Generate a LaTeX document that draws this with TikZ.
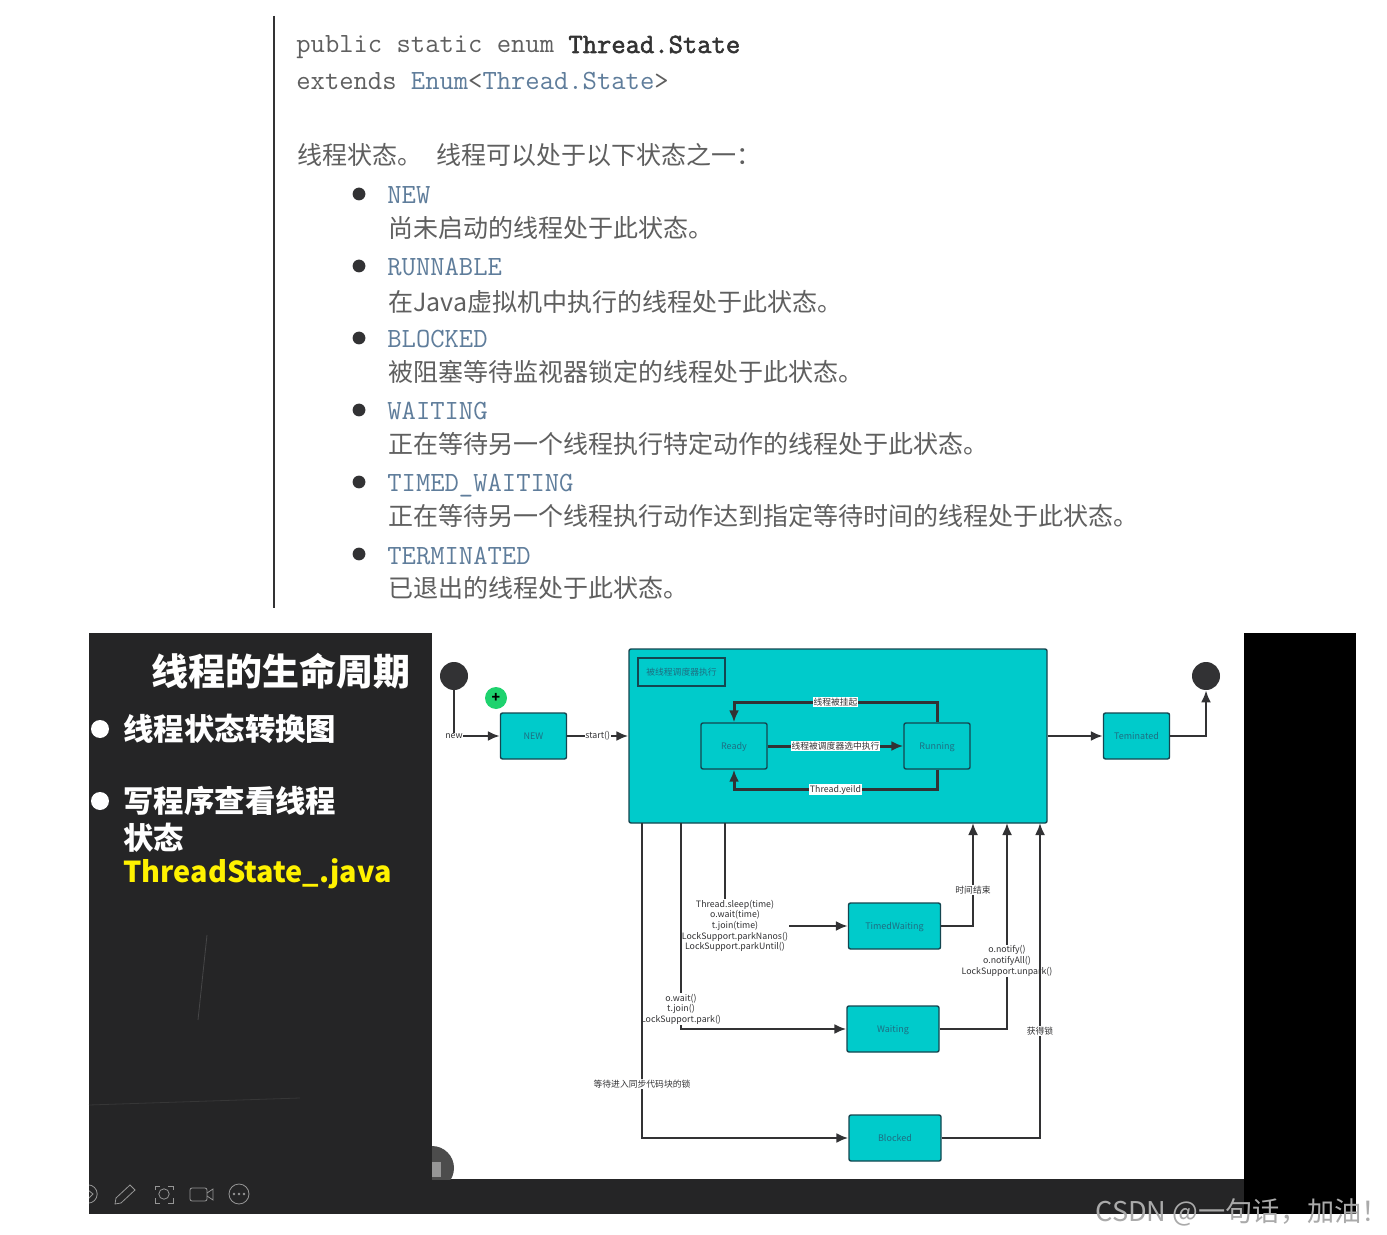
\documentclass[tikz,border=0pt]{standalone}
\usepackage{fontspec}
\usepackage{xcolor}
\usepackage{tikz}
\usetikzlibrary{arrows.meta}
\setmainfont{Noto Sans CJK SC}
\setmonofont{Latin Modern Mono}[BoldFont={Latin Modern Mono}, BoldFeatures={FakeBold=2}]
\definecolor{state-teal}{RGB}{0,203,203}
\definecolor{state-line}{RGB}{20,70,80}
\definecolor{state-text}{RGB}{30,110,130}
\definecolor{flow-dark}{RGB}{50,50,52}
\definecolor{doc-grey}{RGB}{95,95,95}
\definecolor{doc-blue}{RGB}{95,125,155}
\definecolor{board-dark}{RGB}{37,37,38}
\definecolor{icon-grey}{RGB}{150,150,150}
\definecolor{mark-grey}{RGB}{170,170,170}
\definecolor{plus-green}{RGB}{30,210,110}

\begin{document}
\begin{tikzpicture}[x=0.5pt, y=-0.5pt,
            box/.style={draw=state-line, line width=0.7pt, rounded corners=1pt, fill=state-teal,
                        text=state-text, font=\fontsize{4.5}{6}\selectfont, inner sep=0pt,
                        text height=4.4pt, text depth=1pt,
                        minimum width=33pt, minimum height=23pt},
            widebox/.style={box, minimum width=46pt},
            flow/.style={draw=flow-dark, line width=1.1pt, -{Latex[length=6pt,width=5pt]}},
            loopflow/.style={flow, line width=1.5pt},
            plain/.style={draw=flow-dark, line width=1.1pt},
            lbl/.style={fill=white, text=flow-dark, inner sep=0.4pt, align=center,
                        font=\fontsize{4.4}{5.35}\selectfont},
            dot/.style={circle, fill=flow-dark, inner sep=0pt, minimum size=14pt},
            doc/.style={anchor=west, inner sep=0pt, text=doc-grey},
            mono/.style={doc, text height=9pt, text depth=0pt, font=\ttfamily\fontsize{13.9}{13.9}\selectfont},
            cjkline/.style={doc, font=\fontsize{12.5}{12.5}\selectfont},
            slide/.style={anchor=west, inner sep=0pt, white, font=\bfseries\fontsize{15.2}{15.2}\selectfont},
            icon/.style={draw=icon-grey, line width=0.4pt}]
  \useasboundingbox (0,0) rectangle (1387,1235);

  % page background parts
  \fill[white] (0,0) rectangle (1387,1235);
  \draw[line width=0.9pt, flow-dark] (274,16) -- (274,608);
  \fill[board-dark] (89,633) rectangle (432,1214);
  \fill[board-dark] (432,1179) rectangle (1244,1214);
  \fill[black] (1244,633) rectangle (1356,1214);

  % javadoc text
  \node[mono] (sig1) at (296,44) {public static enum \textbf{\textcolor{black!80}{Thread.State}}};
  \node[mono] (sig2) at (296,81) {extends \textcolor{doc-blue}{Enum}<\textcolor{doc-blue}{Thread.State}>};
  \node[cjkline] (intro) at (297,155) {线程状态。\hspace{7pt}线程可以处于以下状态之一：};
  \foreach \ya/\yb/\sname/\sdesc in {
      195/228/NEW/尚未启动的线程处于此状态。,
      267/302/RUNNABLE/在Java虚拟机中执行的线程处于此状态。,
      339/372/BLOCKED/被阻塞等待监视器锁定的线程处于此状态。,
      411/444/WAITING/正在等待另一个线程执行特定动作的线程处于此状态。,
      483/516/TIMED\_WAITING/正在等待另一个线程执行动作达到指定等待时间的线程处于此状态。,
      555/588/TERMINATED/已退出的线程处于此状态。} {
    \fill[flow-dark] (359,\ya-1) circle (3.2pt);
    \node[mono, text=doc-blue] (nm\ya) at (387,\ya) {\sname};
    \node[cjkline] (ds\ya) at (388,\yb) {\sdesc};
  }

  % slide text
  \node[slide, font=\bfseries\fontsize{18.5}{18.5}\selectfont] (title) at (151,671) {线程的生命周期};
  \fill[white] (100,729) circle (4.5pt);
  \fill[white] (100,801) circle (4.5pt);
  \node[slide] (item1) at (123,729) {线程状态转换图};
  \node[slide] (item2) at (123,801) {写程序查看线程};
  \node[slide] (item3) at (123,838) {状态};
  \node[slide, yellow, font=\bfseries\fontsize{14.4}{14.4}\selectfont] (item4) at (123,874) {ThreadState\_.java};

  % chalk scratches
  \draw[white!15!board-dark, line width=0.4pt] (207,935) -- (198,1020);
  \draw[white!8!board-dark, line width=0.4pt] (89,1105) -- (300,1098);

  % toolbar icons
  \begin{scope}
    \clip (89,1170) rectangle (432,1214);
    \draw[icon] (88,1194) circle (4.6pt);
    \draw[icon] (88,1190) -- (93,1194) -- (88,1199);
  \end{scope}
  \draw[icon] (116,1198) -- (130,1185) -- (135,1190) -- (121,1203) -- (115,1204) -- cycle;
  \draw[icon] (164,1194) circle (2.6pt);
  \draw[icon] (155,1190) -- (155,1186) -- (160,1186);
  \draw[icon] (168,1186) -- (173,1186) -- (173,1190);
  \draw[icon] (173,1198) -- (173,1203) -- (168,1203);
  \draw[icon] (160,1203) -- (155,1203) -- (155,1198);
  \draw[icon, rounded corners=1pt] (190,1188) rectangle (207,1201);
  \draw[icon] (207,1193) -- (213,1189) -- (213,1200) -- (207,1196);
  \draw[icon] (239,1194) circle (5pt);
  \foreach \xd in {234,239,244} \fill[icon-grey] (\xd,1194) circle (0.7pt);

  % round button cut by the panel
  \begin{scope}
    \clip (432,1140) rectangle (460,1179);
    \fill[black!70] (432,1168) circle (11pt);
    \fill[icon-grey] (432,1162) rectangle (441,1177);
  \end{scope}

  % states
  \node[box, minimum width=209pt, minimum height=87pt] (big) at (838,736) {};
  \node[draw=state-line, line width=0.7pt, inner sep=0pt, minimum width=43.5pt, minimum height=14pt,
        text=state-text, font=\fontsize{4.4}{5}\selectfont] (sched) at (681.5,672) {被线程调度器执行};
  \node[box] (ready)   at (734,746) {Ready};
  \node[box] (running) at (937,746) {Running};
  \node[box] (newst)   at (533.5,736) {NEW};
  \node[box] (term)    at (1136.5,736) {Teminated};
  \node[widebox] (timed)   at (894.5,926) {TimedWaiting};
  \node[widebox] (waiting) at (893,1029) {Waiting};
  \node[widebox] (blocked) at (895,1138) {Blocked};
  \node[dot] (startdot) at (454,676) {};
  \node[dot] (enddot)   at (1206,676) {};
  \node[circle, fill=plus-green, inner sep=0pt, minimum size=11pt, font=\fontsize{7}{7}\selectfont\bfseries] (plus) at (496,698) {+};

  % free ends on the big box
  \coordinate (bigblk)  at (642,823);
  \coordinate (bigwait) at (681,823);
  \coordinate (bigtime) at (725,823);
  \coordinate (endtime) at (973,823);
  \coordinate (endwait) at (1007,823);
  \coordinate (endblk)  at (1040,823);

  % transitions
  \draw[flow] (startdot) |- node[lbl, pos=0.5] (lbnew) {new} (newst);
  \draw[flow] (newst) -- node[lbl] (lbstart) {start()} (big);
  \draw[flow] (big) -- (term);
  \draw[flow] (term) -| (enddot);
  \draw[loopflow] (ready) -- node[lbl] (lbpick) {线程被调度器选中执行} (running);
  \draw[loopflow] (running.north) -- ++(0,-20) -- node[lbl] (lbhang) {线程被挂起} ++(-203,0) -- (ready.north);
  \draw[loopflow] (running.south) -- ++(0,20) -- node[lbl] (lbyield) {Thread.yeild} ++(-203,0) -- (ready.south);

  \node[lbl] (lbtimed) at (735,926) {Thread.sleep(time)\\o.wait(time)\\t.join(time)\\LockSupport.parkNanos()\\LockSupport.parkUntil()};
  \draw[plain] (bigtime) -- (bigtime |- lbtimed.north);
  \draw[flow] (lbtimed) -- (timed);
  \draw[flow] (bigwait) |- node[lbl, pos=0.452] (lbwait) {o.wait()\\t.join()\\LockSupport.park()} (waiting);
  \draw[flow] (bigblk) |- node[lbl, pos=0.414] (lbblk) {等待进入同步代码块的锁} (blocked);
  \draw[flow] (timed) -| node[lbl, pos=0.675] (lbtimeup) {时间结束} (endtime);
  \draw[flow] (waiting) -| node[lbl, pos=0.665] (lbnotify) {o.notify()\\o.notifyAll()\\LockSupport.unpark()} (endwait);
  \draw[flow] (blocked) -| node[lbl, pos=0.67] (lblock) {获得锁} (endblk);

  % watermark
  \node[anchor=west, inner sep=0pt, text=mark-grey, font=\fontsize{13.6}{13.6}\selectfont] (mark) at (1095,1212) {CSDN @一句话，加油！};
\end{tikzpicture}
\end{document}
